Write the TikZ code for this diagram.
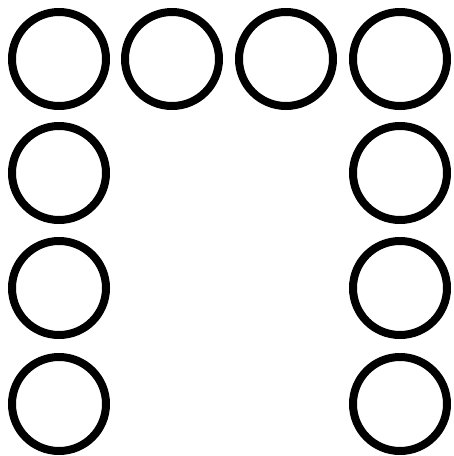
\documentclass[tikz,border=0pt]{standalone}
\usepackage{tikz}

\begin{document}
\begin{tikzpicture}[
  x=1pt, y=-1pt,
  ring/.style={circle, draw=black, line width=8pt, minimum size=94pt, inner sep=0pt}
]

% Canvas size matches the reference (pixels as points, y downwards)
\useasboundingbox (0,0) rectangle (454,456);

% Column and row positions
\def\colleft{59}
\def\colright{400}
\def\rowtop{59}

% Top row of rings
\foreach \x/\n in {59/a, 172/b, 286/c, 400/d}{
  \node[ring] (top\n) at (\x, \rowtop) {};
}

% Left and right columns below the top row
\foreach \y/\n in {173/1, 288/2, 404/3}{
  \node[ring] (left\n) at (\colleft, \y) {};
  \node[ring] (right\n) at (\colright, \y) {};
}

\end{tikzpicture}
\end{document}
